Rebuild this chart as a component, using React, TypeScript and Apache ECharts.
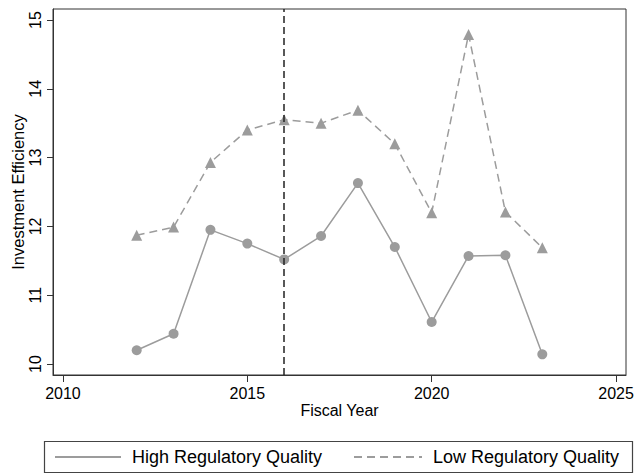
import React, { useEffect, useRef } from "react";
import * as echarts from "echarts";

const years = [2012, 2013, 2014, 2015, 2016, 2017, 2018, 2019, 2020, 2021, 2022, 2023];
const highValues = [10.2, 10.44, 11.95, 11.75, 11.52, 11.86, 12.63, 11.7, 10.61, 11.57, 11.58, 10.14];
const lowValues = [11.87, 11.99, 12.93, 13.4, 13.55, 13.5, 13.69, 13.2, 12.2, 14.79, 12.21, 11.69];
const xTicks = [2010, 2015, 2020, 2025];
const yTicks = [10, 11, 12, 13, 14, 15];
const policyYear = 2016;
const highName = "High Regulatory Quality";
const lowName = "Low Regulatory Quality";

const FONT = "'Liberation Sans', Arial, Helvetica, sans-serif";
const GRAY = "#9c9c9c";

export default function App() {
  const ref = useRef<HTMLDivElement>(null);
  useEffect(() => {
    if (!ref.current) return;
    const chart = echarts.init(ref.current, undefined, { renderer: "svg" });
    const highData = years.map((y, i) => [y, highValues[i]]);
    const lowData = years.map((y, i) => [y, lowValues[i]]);
    chart.setOption({
      animation: false,
      backgroundColor: "#fff",
      textStyle: { fontFamily: FONT },
      grid: {
        left: 53,
        right: 9,
        top: 9,
        bottom: 99,
        show: true,
        borderColor: "#333",
        borderWidth: 1,
        backgroundColor: "transparent",
        containLabel: false,
        outerBoundsMode: "none",
      },
      xAxis: {
        type: "value",
        min: 2009.73,
        max: 2025.27,
        name: "Fiscal Year",
        nameLocation: "middle",
        nameGap: 27,
        nameMoveOverlap: false,
        nameTextStyle: { fontSize: 16, color: "#000", fontFamily: FONT },
        axisLine: { show: true, onZero: false, lineStyle: { color: "#333", width: 1 } },
        axisTick: { show: true, inside: false, length: 7, customValues: xTicks, lineStyle: { color: "#333" } },
        axisLabel: {
          customValues: xTicks,
          formatter: (v: number) => String(v),
          fontSize: 16,
          color: "#000",
          margin: 10,
          fontFamily: FONT,
        },
        splitLine: { show: false },
      },
      yAxis: {
        type: "value",
        min: 9.84,
        max: 15.16,
        name: "Investment Efficiency",
        nameLocation: "middle",
        nameGap: 27,
        nameMoveOverlap: false,
        nameTextStyle: { fontSize: 16.5, color: "#000", fontFamily: FONT },
        axisLine: { show: true, onZero: false, lineStyle: { color: "#333", width: 1 } },
        axisTick: { show: true, inside: false, length: 6, customValues: yTicks, lineStyle: { color: "#333" } },
        axisLabel: {
          customValues: yTicks,
          formatter: (v: number) => String(v),
          fontSize: 16,
          color: "#000",
          rotate: 90,
          margin: 10,
          fontFamily: FONT,
        },
        splitLine: { show: false },
      },
      legend: [
        {
          data: [highName],
          left: 54,
          top: 448,
          padding: 0,
          itemWidth: 66,
          itemHeight: 14,
          itemGap: 0,
          textStyle: { fontSize: 18, color: "#000", fontFamily: FONT, padding: [0, 0, 0, 6] },
          itemStyle: { opacity: 0 },
        },
        {
          data: [lowName],
          left: 353,
          top: 448,
          padding: 0,
          itemWidth: 68,
          itemHeight: 14,
          itemGap: 0,
          textStyle: { fontSize: 18, color: "#000", fontFamily: FONT, padding: [0, 0, 0, 6] },
          itemStyle: { opacity: 0 },
        },
      ],
      graphic: [
        {
          type: "rect",
          shape: { x: 44.5, y: 441.5, width: 588, height: 31 },
          style: { fill: "none", stroke: "#444", lineWidth: 1.2 },
          silent: true,
        },
      ],
      series: [
        {
          name: highName,
          type: "line",
          data: highData,
          symbol: "circle",
          symbolSize: 10,
          itemStyle: { color: GRAY },
          lineStyle: { color: GRAY, width: 1.5, type: "solid" },
          z: 3,
        },
        {
          name: lowName,
          type: "line",
          data: lowData,
          symbol: "triangle",
          symbolSize: 11,
          itemStyle: { color: GRAY },
          lineStyle: { color: GRAY, width: 1.5, type: [8, 5] },
          z: 3,
          markLine: {
            silent: true,
            symbol: "none",
            label: { show: false },
            lineStyle: { color: "#222", width: 1.5, type: [7, 4] },
            data: [{ xAxis: policyYear }],
          },
        },
      ],
    });
    return () => chart.dispose();
  }, []);
  return (
    <div
      ref={ref}
      style={{ position: "absolute", left: 0, top: 0, width: 635, height: 474 }}
    />
  );
}
